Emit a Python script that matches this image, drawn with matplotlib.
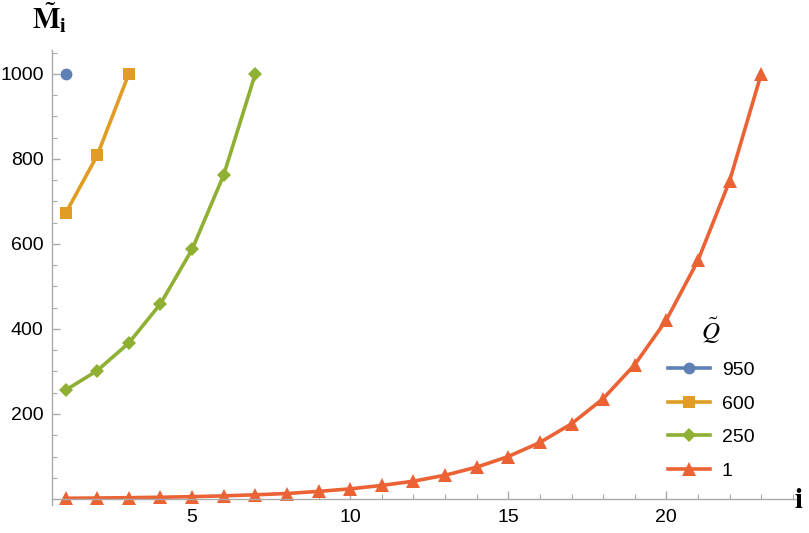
import matplotlib.pyplot as plt
from matplotlib.ticker import MultipleLocator

plt.rcParams['font.family'] = ['Liberation Sans', 'DejaVu Sans']
plt.rcParams['mathtext.fontset'] = 'stix'

# series: Q~ value -> M~_i for i = 1, 2, ...
q_labels = ['950', '600', '250', '1']
m_950 = [1000]
m_600 = [672, 808, 1000]
m_250 = [256, 302, 367, 459, 587, 762, 1000]
m_1 = [1.8, 2.4, 3.2, 4.2, 5.6, 7.5, 10, 13, 18, 24, 32, 42, 56, 75,
       100, 133, 177, 236, 316, 421, 561, 748, 1000]

colors = ['#5E81B5', '#E19C24', '#8FB032', '#EB6235']
markers = ['o', 's', 'D', '^']
msizes = [8.5, 9, 7.2, 10]

fig = plt.figure(figsize=(8.09, 5.33), dpi=100)
ax = fig.add_axes([52 / 809, 28 / 533, 744 / 809, 455 / 533])

for vals, lab, c, m, ms in zip([m_950, m_600, m_250, m_1], q_labels, colors, markers, msizes):
    i = list(range(1, len(vals) + 1))
    ax.plot(i, vals, color=c, marker=m, markersize=ms, linewidth=2.6,
            label=lab, clip_on=False, markeredgewidth=0)

ax.set_xlim(0.57, 24.1)
ax.set_ylim(-14, 1056)

for s in ['top', 'right']:
    ax.spines[s].set_visible(False)
ax.spines['bottom'].set_position(('data', 0))
for s in ['left', 'bottom']:
    ax.spines[s].set_color('#aaaaaa')
    ax.spines[s].set_linewidth(1.0)

ax.xaxis.set_major_locator(MultipleLocator(5))
ax.xaxis.set_minor_locator(MultipleLocator(1))
ax.yaxis.set_major_locator(MultipleLocator(200))
ax.yaxis.set_minor_locator(MultipleLocator(50))
ax.set_yticks([200, 400, 600, 800, 1000])
ax.tick_params(which='both', direction='in', color='#aaaaaa', labelsize=14)
ax.tick_params(which='major', length=6, width=1)
ax.tick_params(which='minor', length=3.5, width=0.8)
ax.tick_params(axis='y', pad=6)
ax.tick_params(axis='x', pad=7)

fig.text(50 / 809, 1 - 18 / 533, r'$\tilde{\mathbf{M}}_{\mathbf{i}}$', fontsize=21,
         ha='center', va='center')
fig.text(799 / 809, 1 - 500 / 533, r'$\mathbf{i}$', fontsize=21,
         ha='center', va='center')

leg = ax.legend(title=r'$\tilde{Q}$', frameon=False, fontsize=14,
                title_fontsize=18, handlelength=2.2, handletextpad=0.6,
                labelspacing=0.82, loc='upper left',
                bbox_to_anchor=(650 / 809, 1 - 298 / 533),
                bbox_transform=fig.transFigure)

fig.savefig('out.png', dpi=100)
